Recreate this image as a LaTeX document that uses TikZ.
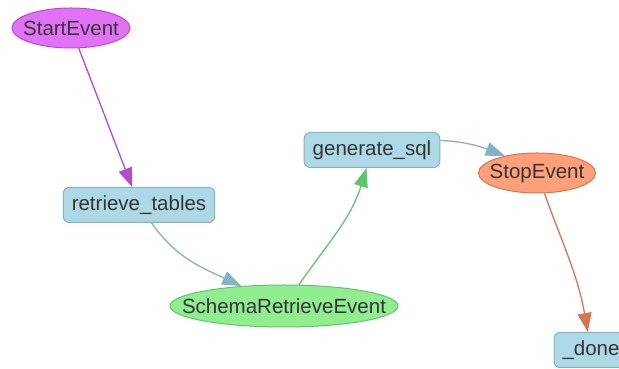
\documentclass[tikz,border=0pt]{standalone}
\usepackage{fontspec}
\setmainfont{Liberation Sans}
\usetikzlibrary{arrows.meta,shapes.geometric}
\definecolor{stepBlue}{RGB}{173,216,230}
\definecolor{stepBlueDark}{RGB}{132,178,196}
\definecolor{startPurple}{RGB}{226,114,245}
\definecolor{startPurpleDark}{RGB}{178,76,206}
\definecolor{stopSalmon}{RGB}{255,160,122}
\definecolor{stopSalmonDark}{RGB}{212,118,78}
\definecolor{evGreen}{RGB}{144,238,144}
\definecolor{evGreenDark}{RGB}{96,196,108}
\definecolor{labelGray}{RGB}{52,52,52}
\newcommand{\evlabel}[1]{\makebox[0pt]{#1}}

\begin{document}
\begin{tikzpicture}[x=1pt,y=1pt,
  every node/.style={font=\fontsize{20.5}{24}\selectfont, text=labelGray},
  stepbox/.style={draw=stepBlueDark, fill=stepBlue, line width=1pt, rounded corners=6pt,
    minimum height=35pt, inner xsep=8.5pt, inner ysep=0pt},
  evnode/.style={ellipse, line width=1pt, inner sep=0pt},
  flow/.style={line width=1.3pt, -{Triangle[length=19pt,width=14pt]}}]
\useasboundingbox (0,0) rectangle (619,369);

% nodes
\node[evnode, draw=startPurpleDark, fill=startPurple, minimum width=118pt, minimum height=40pt] (startev) at (71,341) {\evlabel{StartEvent}};
\node[stepbox] (retrieve) at (139,164) {retrieve\_tables};
\node[evnode, draw=evGreenDark, fill=evGreen, minimum width=228pt, minimum height=42pt] (schemaev) at (284,63) {\evlabel{SchemaRetrieveEvent}};
\node[stepbox] (gensql) at (372,219) {generate\_sql};
\node[evnode, draw=stopSalmonDark, fill=stopSalmon, minimum width=117pt, minimum height=40pt] (stopev) at (537,196) {\evlabel{StopEvent}};
\node[stepbox] (done) at (591,19) {\_done};

% edges
\draw[flow, startPurpleDark] (startev) -- (retrieve);
\draw[flow, stepBlueDark] (retrieve) to[out=-55,in=155] (schemaev);
\draw[flow, evGreenDark] (schemaev) to[out=55,in=-107] (gensql);
\draw[flow, stepBlueDark] (gensql.8) to[out=-3,in=159] (stopev.152);
\draw[flow, stopSalmonDark] (stopev) to[out=-70,in=100] (done);
\end{tikzpicture}
\end{document}
